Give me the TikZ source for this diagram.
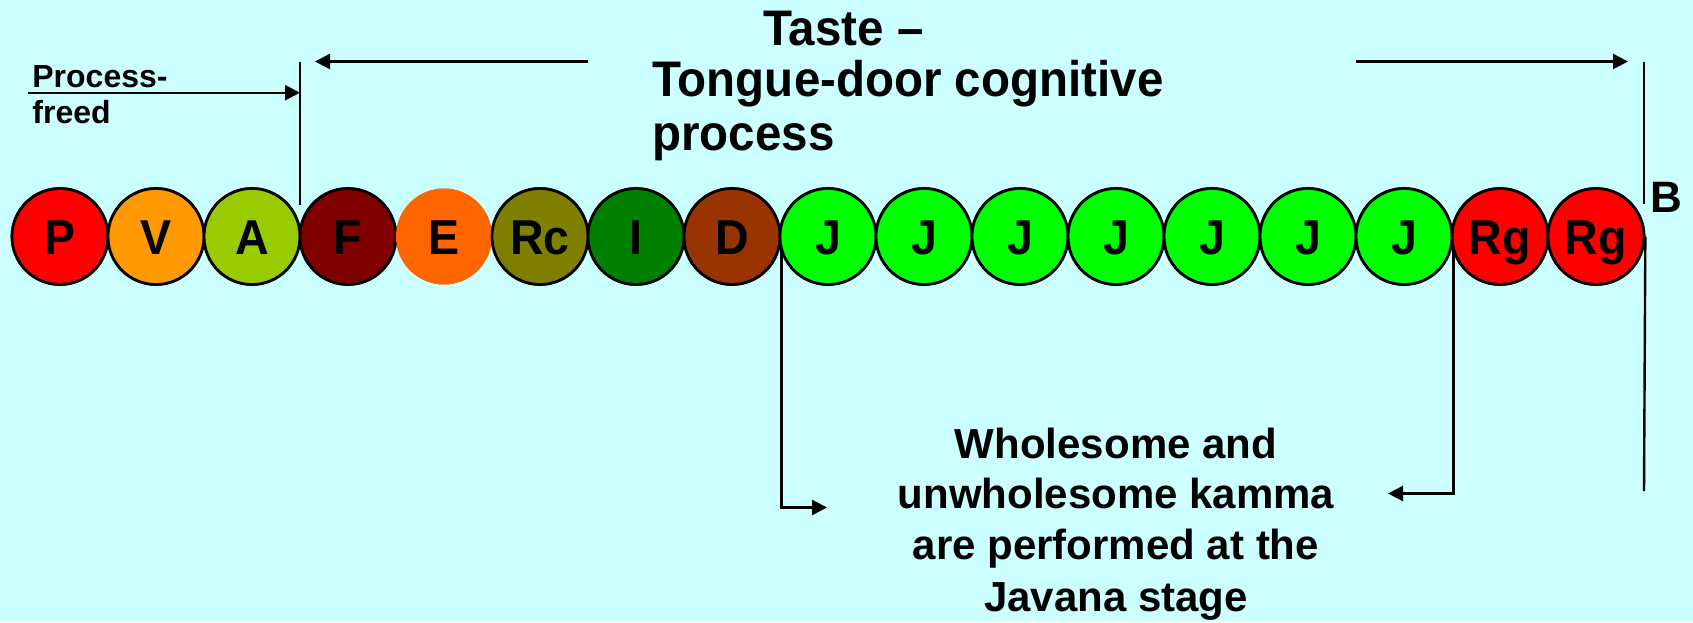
\documentclass[tikz,border=0pt]{standalone}
\usepackage{fontspec}
\setmainfont{Liberation Sans}
\newfontfamily\titlefont{Liberation Sans}[FakeStretch=0.95]
\newfontfamily\ballfont{Liberation Sans}[FakeStretch=0.95]
\usetikzlibrary{arrows.meta}
\definecolor{bgc}{HTML}{CCFFFF}
\definecolor{cP}{HTML}{FF0000}
\definecolor{cV}{HTML}{FF9900}
\definecolor{cA}{HTML}{99CC00}
\definecolor{cF}{HTML}{800000}
\definecolor{cE}{HTML}{FF6600}
\definecolor{cRc}{HTML}{808000}
\definecolor{cI}{HTML}{008000}
\definecolor{cD}{HTML}{993300}
\definecolor{cJ}{HTML}{00FF00}
\definecolor{cRg}{HTML}{FF0000}
\tikzset{
  ball/.style={circle, draw=black, line width=1.35pt, minimum size=48pt, inner sep=0pt,
    font=\ballfont\fontsize{24.5}{26}\selectfont\bfseries, text height=17.5pt, text depth=0pt},
  noline/.style={draw=none},
  wire/.style={line width=1.2pt, draw=black},
  arr/.style={wire, -{Triangle[length=7.5pt,width=7.5pt]}},
  title/.style={anchor=base west, inner sep=0pt, font=\titlefont\fontsize{25}{27}\selectfont\bfseries},
  small/.style={anchor=base west, inner sep=0pt, font=\fontsize{16}{18}\selectfont\bfseries},
  body/.style={anchor=base, inner sep=0pt, font=\fontsize{21}{23}\selectfont\bfseries},
}
\begin{document}
\begin{tikzpicture}[x=0.5pt, y=-0.5pt]
\fill[bgc] (0,0) rectangle (1693,622);
\useasboundingbox (0,0) rectangle (1693,622);

% coordinates
\coordinate (vLtop) at (300,61.5);
\coordinate (vLbot) at (300,205);
\coordinate (vRtop) at (1644,61.5);
\coordinate (vRbot) at (1644,204);
\coordinate (vRend) at (1644,491);
\coordinate (pfs) at (28,92.7);
\coordinate (tls) at (588,61.5);
\coordinate (tlt) at (315,61.5);
\coordinate (trs) at (1356,61.5);
\coordinate (trt) at (1628,61.5);
\coordinate (dEnd) at (827,507.5);
\coordinate (rEnd) at (1388,493.5);

% circles (positions only, drawn later)
\path
  (60,236.5)   node[ball, fill=cP]  (c1) {}
  (156,236.5)  node[ball, fill=cV]  (c2) {}
  (252,236.5)  node[ball, fill=cA]  (c3) {}
  (348,236.5)  node[ball, fill=cF]  (c4) {}
  (444,236.5)  node[ball, fill=cE, noline] (c5) {}
  (540,236.5)  node[ball, fill=cRc] (c6) {}
  (636,236.5)  node[ball, fill=cI]  (c7) {}
  (732,236.5)  node[ball, fill=cD]  (c8) {}
  (828,236.5)  node[ball, fill=cJ]  (c9) {}
  (924,236.5)  node[ball, fill=cJ]  (c10) {}
  (1020,236.5) node[ball, fill=cJ]  (c11) {}
  (1116,236.5) node[ball, fill=cJ]  (c12) {}
  (1212,236.5) node[ball, fill=cJ]  (c13) {}
  (1308,236.5) node[ball, fill=cJ]  (c14) {}
  (1404,236.5) node[ball, fill=cJ]  (c15) {}
  (1500,236.5) node[ball, fill=cRg] (c16) {}
  (1596,236.5) node[ball, fill=cRg] (c17) {};

% connectors
\draw[wire] (vLtop) -- (vLbot);
\draw[wire] (vRtop) -- (vRbot);
\draw[wire] (c17.east) -- (vRend);
\draw[arr] (pfs) -- (pfs -| vLtop);
\draw[arr] (tls) -- (tlt);
\draw[arr] (trs) -- (trt);
\draw[arr] (c8.east) |- (dEnd);
\draw[arr] (c15.east) |- (rEnd);

% redraw circles on top with letters
\node[ball, fill=cP]  at (c1) {P};
\node[ball, fill=cV]  at (c2) {V};
\node[ball, fill=cA]  at (c3) {A};
\node[ball, fill=cF]  at (c4) {F};
\node[ball, fill=cE, noline] at (c5) {E};
\node[ball, fill=cRc] at (c6) {Rc};
\node[ball, fill=cI]  at (c7) {I};
\node[ball, fill=cD]  at (c8) {D};
\node[ball, fill=cJ]  at (c9) {J};
\node[ball, fill=cJ]  at (c10) {J};
\node[ball, fill=cJ]  at (c11) {J};
\node[ball, fill=cJ]  at (c12) {J};
\node[ball, fill=cJ]  at (c13) {J};
\node[ball, fill=cJ]  at (c14) {J};
\node[ball, fill=cJ]  at (c15) {J};
\node[ball, fill=cRg] at (c16) {Rg};
\node[ball, fill=cRg] at (c17) {Rg};

% texts
\node[title] (t1) at (763,45) {Taste –};
\node[title] (t2) at (652,96) {Tongue-door cognitive};
\node[title] (t3) at (652,150) {process};
\node[small] (p1) at (32,87) {Process-};
\node[small] (p2) at (32,123) {freed};
\node[anchor=base west, inner sep=0pt, font=\fontsize{22}{24}\selectfont\bfseries] (B) at (1650,212) {B};
\node[body] (b1) at (1116,458) {Wholesome and};
\node[body] (b2) at (1116,508) {unwholesome kamma};
\node[body] (b3) at (1116,559) {are performed at the};
\node[body] (b4) at (1116,611) {Javana stage};
\end{tikzpicture}
\end{document}
